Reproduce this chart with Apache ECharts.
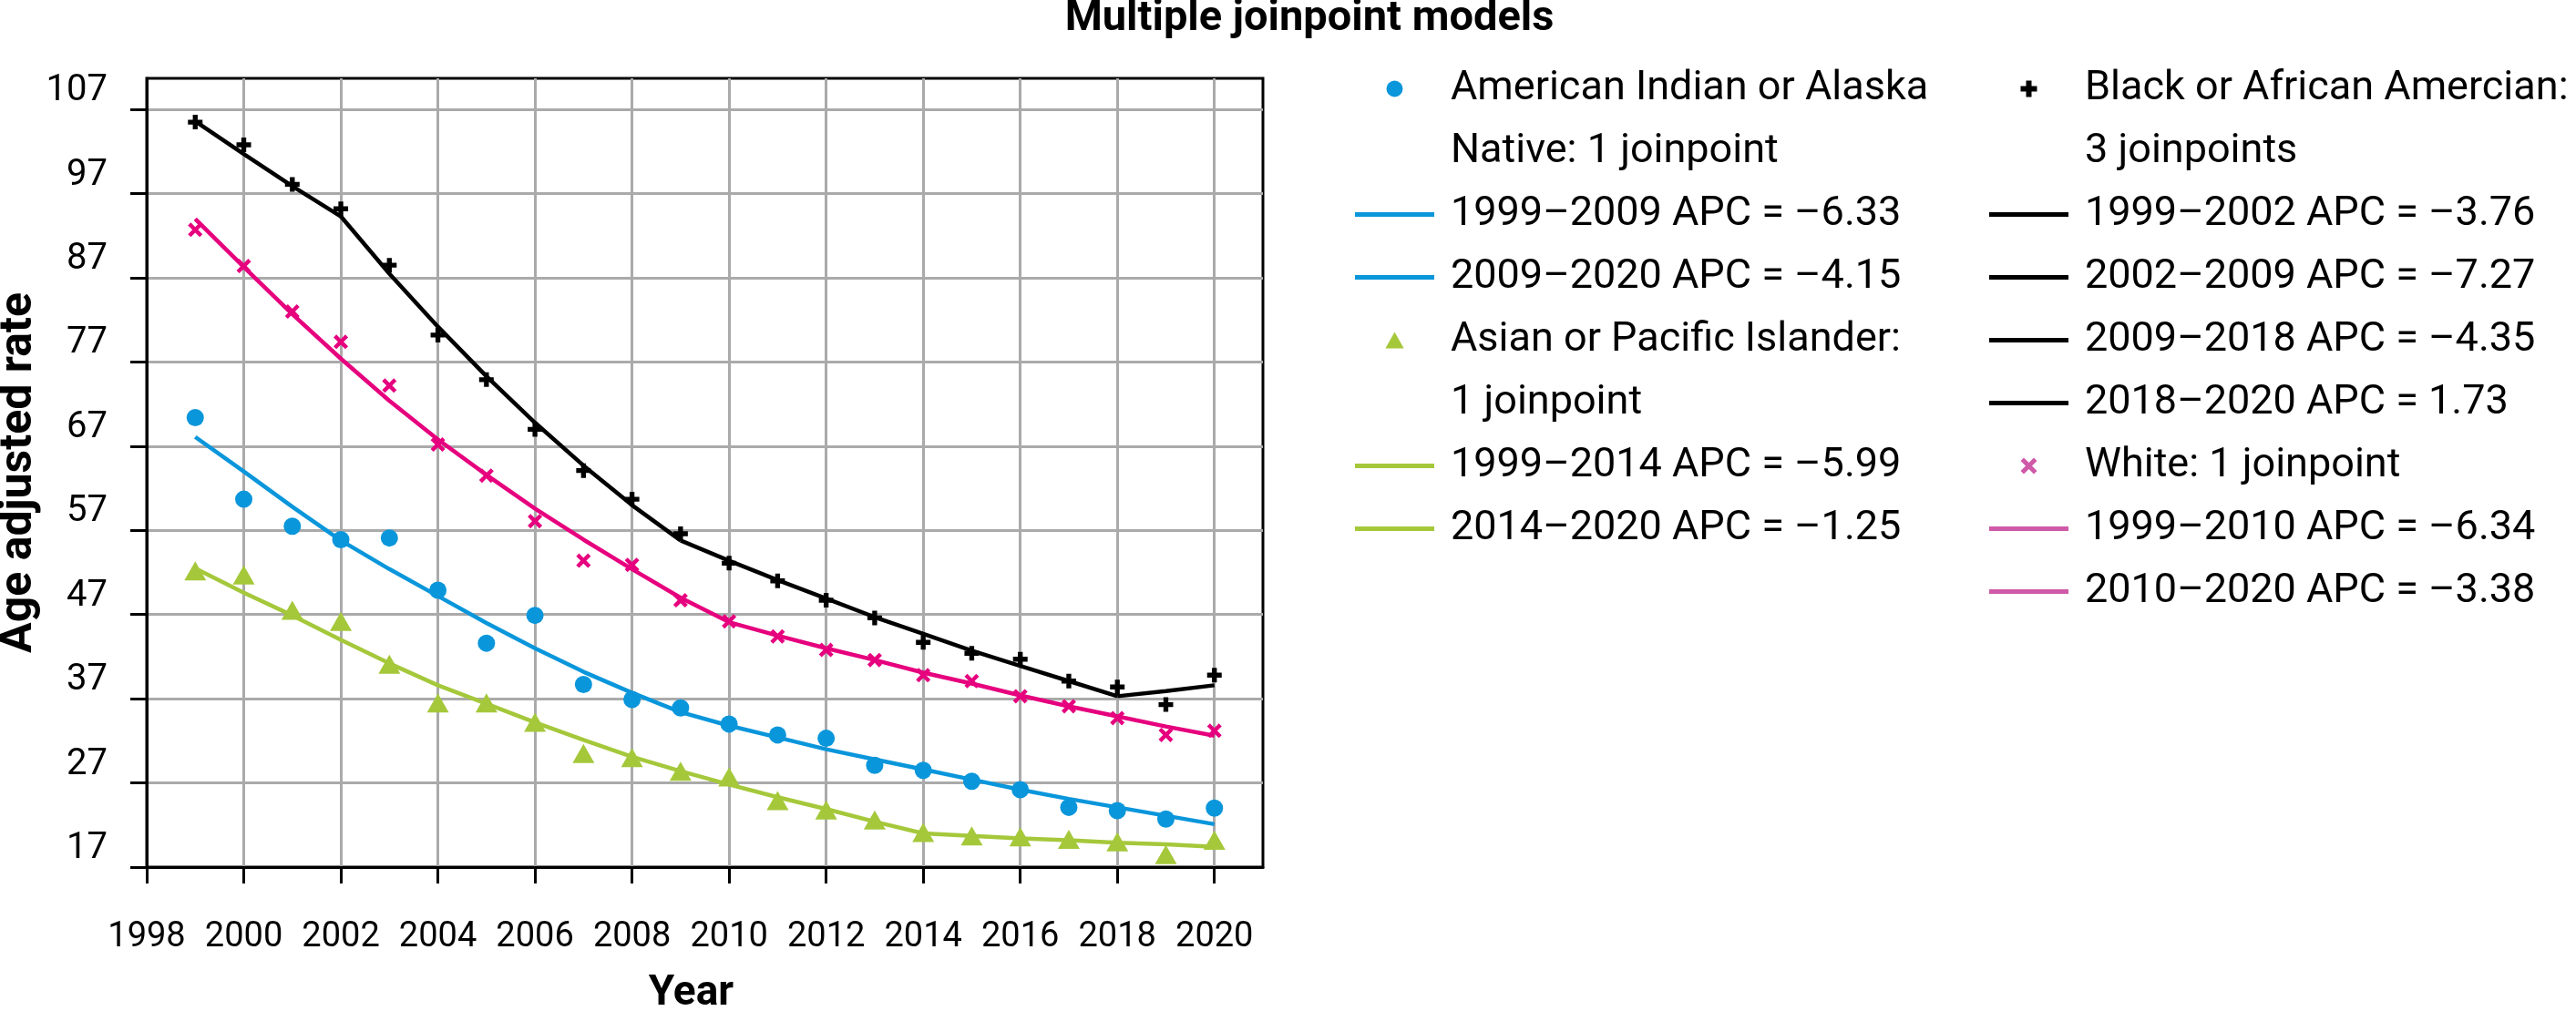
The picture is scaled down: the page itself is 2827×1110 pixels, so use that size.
<!DOCTYPE html>
<html>
<head>
<meta charset="utf-8">
<script src="https://cdn.jsdelivr.net/npm/echarts@6/dist/echarts.min.js"></script>
<style>
html,body{margin:0;padding:0;background:#fff;}
#chart{width:2827px;height:1110px;}
</style>
</head>
<body>
<div id="chart"></div>
<script>
// ---- data ----
const years = [1999,2000,2001,2002,2003,2004,2005,2006,2007,2008,2009,2010,2011,2012,2013,2014,2015,2016,2017,2018,2019,2020];

const aianName = 'American Indian or Alaska\nNative: 1 joinpoint';
const aianRates = [70.4,60.7,57.5,55.9,56.1,49.9,43.6,46.9,38.7,36.9,35.9,34.0,32.7,32.3,29.1,28.5,27.2,26.2,24.1,23.7,22.7,24.0];
const aianFit   = [68.1,64.0,59.8,55.8,52.4,49.2,46.0,43.0,40.2,37.7,35.4,33.8,32.4,31.0,29.8,28.6,27.4,26.2,25.1,24.1,23.1,22.1];
const aianJoins = [1999,2009,2020];
const aianSegNames = ['1999–2009 APC = –6.33','2009–2020 APC = –4.15'];

const apiName = 'Asian or Pacific Islander:\n1 joinpoint';
const apiRates = [52.2,51.7,47.5,46.2,41.1,36.5,36.5,34.2,30.5,30.0,28.4,27.7,24.9,23.8,22.6,21.1,20.7,20.6,20.3,20.0,18.5,20.2];
const apiFit   = [52.5,49.6,46.9,44.0,41.2,38.6,36.4,34.2,32.1,30.1,28.4,26.8,25.3,23.9,22.4,21.0,20.7,20.4,20.2,19.9,19.7,19.4];
const apiJoins = [1999,2014,2020];
const apiSegNames = ['1999–2014 APC = –5.99','2014–2020 APC = –1.25'];

const blackName = 'Black or African Amercian:\n3 joinpoints';
const blackRates = [105.5,102.8,98.1,95.2,88.5,80.2,74.9,69.0,64.1,60.7,56.6,53.1,51.0,48.7,46.6,43.7,42.4,41.7,39.1,38.4,36.3,39.8];
const blackFit   = [105.6,101.7,97.9,94.3,87.5,81.2,75.3,69.8,64.7,60.0,55.8,53.4,51.1,48.9,46.7,44.7,42.7,40.9,39.1,37.3,37.9,38.6];
const blackJoins = [1999,2002,2009,2018,2020];
const blackSegNames = ['1999–2002 APC = –3.76','2002–2009 APC = –7.27','2009–2018 APC = –4.35','2018–2020 APC = 1.73'];

const whiteName = 'White: 1 joinpoint';
const whiteRates = [92.7,88.4,83.0,79.4,74.2,67.2,63.5,58.1,53.4,52.9,48.7,46.2,44.4,42.8,41.6,39.8,39.1,37.3,36.1,34.7,32.7,33.2];
const whiteFit   = [94.0,88.3,82.7,77.4,72.4,67.8,63.6,59.6,55.9,52.4,49.0,46.1,44.5,43.0,41.6,40.1,38.8,37.4,36.1,34.9,33.7,32.6];
const whiteJoins = [1999,2010,2020];
const whiteSegNames = ['1999–2010 APC = –6.34','2010–2020 APC = –3.38'];

const xTicks = [1998,2000,2002,2004,2006,2008,2010,2012,2014,2016,2018,2020];
const yTicks = [17,27,37,47,57,67,77,87,97,107];

// ---- styles ----
const FONT = 'Roboto';
const BLUE = '#0a96db', GREEN = '#a5c83b', PINK = '#e6007e', BLACK = '#000000';
const PINK_LEGEND = '#cf5aa8';
const PLUS = 'path://M6,0H12V6H18V12H12V18H6V12H0V6H6Z';
const CROSS = 'path://M3.5,0L9,5.5L14.5,0L18,3.5L12.5,9L18,14.5L14.5,18L9,12.5L3.5,18L0,14.5L5.5,9L0,3.5Z';
const TRI = 'path://M9,0L18,16H0Z';
const LINE_ICON = 'path://M0,0H87V5H0Z';

// legend blocks: [column left, first-row centre index, groups]
const groups = [
  {name: aianName, rates: aianRates, fit: aianFit, joins: aianJoins, segNames: aianSegNames, color: BLUE, legendColor: BLUE,
   symbol: 'circle', symbolSize: 19, icon: 'circle', block: 0},
  {name: apiName, rates: apiRates, fit: apiFit, joins: apiJoins, segNames: apiSegNames, color: GREEN, legendColor: GREEN,
   symbol: 'triangle', symbolSize: [24, 21], icon: TRI, block: 1},
  {name: blackName, rates: blackRates, fit: blackFit, joins: blackJoins, segNames: blackSegNames, color: BLACK, legendColor: BLACK,
   symbol: PLUS, symbolSize: 16, icon: PLUS, block: 2},
  {name: whiteName, rates: whiteRates, fit: whiteFit, joins: whiteJoins, segNames: whiteSegNames, color: PINK, legendColor: PINK_LEGEND,
   symbol: CROSS, symbolSize: 16, icon: CROSS, block: 2}
];

function pairs(vals, from, to) {
  return years.map((y, i) => [y, vals[i]]).filter(p => p[0] >= from && p[0] <= to);
}

const series = [];
const legendData = [[], [], []];
groups.forEach((g) => {
  const twoLine = g.name.indexOf('\n') >= 0;
  legendData[g.block].push({
    name: g.name, icon: g.icon,
    itemStyle: {color: g.legendColor, borderWidth: 0},
    textStyle: twoLine ? {padding: [69, 0, 0, 13]} : {}
  });
  g.segNames.forEach((sn, si) => {
    series.push({
      type: 'line', name: sn,
      data: pairs(g.fit, g.joins[si], g.joins[si + 1]),
      symbol: 'none', showSymbol: false,
      lineStyle: {color: g.color, width: 4.5},
      itemStyle: {color: g.color},
      z: 2, silent: true
    });
    legendData[g.block].push({name: sn, icon: LINE_ICON, itemStyle: {color: g.legendColor, borderWidth: 0}});
  });
  series.push({
    type: 'scatter', name: g.name,
    data: years.map((y, i) => [y, g.rates[i]]),
    symbol: g.symbol, symbolSize: g.symbolSize,
    itemStyle: {color: g.color, opacity: 1},
    z: 3, silent: true
  });
});

const legendCommon = {
  orient: 'vertical', padding: 0, itemGap: 0,
  itemWidth: 87, itemHeight: 18, symbolKeepAspect: true,
  selectedMode: false,
  itemStyle: {borderWidth: 0},
  textStyle: {fontFamily: FONT, fontSize: 45, color: '#000', lineHeight: 69, padding: [0, 0, 0, 13], rich: {r: {}}}
};

const chart = echarts.init(document.getElementById('chart'), null, {renderer: 'canvas'});
chart.setOption({
  animation: false,
  backgroundColor: '#ffffff',
  title: {
    text: 'Multiple joinpoint models',
    left: 1437, top: -2, padding: 0, textAlign: 'center', textVerticalAlign: 'top',
    textStyle: {fontFamily: FONT, fontWeight: 'bold', fontSize: 47, color: '#000'}
  },
  legend: [
    Object.assign({}, legendCommon, {left: 1487, top: -6, data: legendData[0]}),
    Object.assign({}, legendCommon, {left: 1487, top: 270, data: legendData[1]}),
    Object.assign({}, legendCommon, {left: 2183, top: -6, data: legendData[2]})
  ],
  grid: {
    left: 161, right: 1441, top: 86, bottom: 158,
    containLabel: false, outerBoundsMode: 'none',
    show: true, borderColor: '#000', borderWidth: 3, backgroundColor: 'transparent'
  },
  xAxis: {
    type: 'value', min: 1998, max: 2021, interval: 2,
    name: 'Year', nameLocation: 'middle', nameGap: 116,
    nameTextStyle: {fontFamily: FONT, fontWeight: 'bold', fontSize: 46, color: '#000', padding: [0, 30, 0, 0]},
    axisLine: {show: true, onZero: false, lineStyle: {color: '#000', width: 3}},
    axisTick: {show: true, inside: false, length: 18, customValues: xTicks, lineStyle: {color: '#000', width: 3}},
    axisLabel: {customValues: xTicks, fontFamily: FONT, fontSize: 38, color: '#000', margin: 58, formatter: v => String(v)},
    splitLine: {show: true, lineStyle: {color: '#aaaaaa', width: 3}}
  },
  yAxis: {
    type: 'value', min: 17, max: 110.7, interval: 10,
    name: 'Age adjusted rate', nameLocation: 'middle', nameGap: 112,
    nameTextStyle: {fontFamily: FONT, fontWeight: 'bold', fontSize: 50, color: '#000'},
    axisLine: {show: true, onZero: false, lineStyle: {color: '#000', width: 3}},
    axisTick: {show: true, inside: false, length: 18, customValues: yTicks, lineStyle: {color: '#000', width: 3}},
    axisLabel: {customValues: yTicks, fontFamily: FONT, fontSize: 40, color: '#000', margin: 43,
      verticalAlign: 'bottom', lineHeight: 40, formatter: v => String(v)},
    splitLine: {show: true, lineStyle: {color: '#aaaaaa', width: 3}}
  },
  series: series
});
</script>
</body>
</html>
